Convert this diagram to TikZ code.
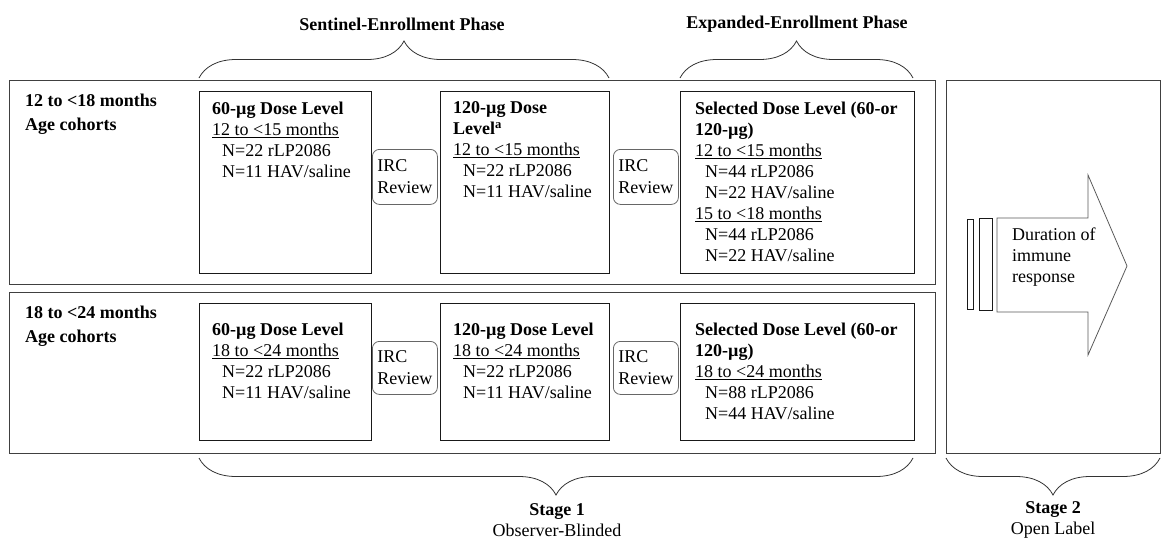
\documentclass[tikz,border=0pt]{standalone}
\usepackage{fontspec}
\setmainfont{Liberation Serif}
\usetikzlibrary{decorations.pathreplacing}

\begin{document}
\begin{tikzpicture}[
x=1pt,y=1pt,
rowbox/.style={
  draw=black!75,
  line width=1.3pt,
  anchor=north west,
  inner sep=0pt
  },
dosebox/.style={
  draw=black!90,
  line width=1.1pt,
  anchor=north west,
  inner sep=0pt
  },
ircbox/.style={
  draw=black!60,
  line width=0.8pt,
  rounded corners=7pt,
  anchor=north west,
  minimum width=65pt,
  inner sep=0pt,
  align=left,
  font=\fontsize{18}{22}\selectfont
  },
txt/.style={
  anchor=north west,
  inner sep=0pt,
  align=left,
  font=\fontsize{18}{21}\selectfont
  },
phasebrace/.style={
  decorate,
  decoration={brace,amplitude=37pt},
  draw=black!80,
  line width=0.8pt
  }
]
\useasboundingbox (0,0) rectangle (1172,-557);
% frames of the two cohorts and of stage 2
\node[rowbox,minimum width=926pt,minimum height=204pt] (row1) at (9,-80) {};
\node[rowbox,minimum width=926pt,minimum height=161pt] (row2) at (9,-292) {};
\node[rowbox,minimum width=214pt,minimum height=373pt] (stagetwo) at (946,-80) {};
% phase headers
\node[txt,anchor=center,font=\bfseries\fontsize{18}{21}\selectfont] (sentinel) at (402,-24) {Sentinel-Enrollment Phase};
\node[txt,anchor=center,font=\bfseries\fontsize{18}{21}\selectfont] (expanded) at (797,-24) {Expanded-Enrollment Phase};
\draw[phasebrace] (199,-78) -- (609,-78);
\draw[phasebrace] (680,-78) -- (913,-78);
% first cohort
\node[txt,font=\bfseries\fontsize{18}{24}\selectfont] (cohort1) at (25,-94) {12 to <18 months\\Age cohorts};
\node[dosebox,minimum width=172pt,minimum height=182pt] (dlow1) at (199,-91) {};
\node[dosebox,minimum width=169pt,minimum height=182pt] (dhigh1) at (440,-91) {};
\node[dosebox,minimum width=234pt,minimum height=182pt] (dsel1) at (680,-91) {};
\node[txt] (dlow1txt) at (212,-101.5) {\textbf{60-µg Dose Level}\\
  \underline{12 to <15 months}\\
  \hspace*{10pt}N=22 rLP2086\\
  \hspace*{10pt}N=11 HAV/saline};
\node[txt] (dhigh1txt) at (453,-101.5) {\textbf{120-µg Dose}\\
  \textbf{Level\textsuperscript{a}}\\
  \underline{12 to <15 months}\\
  \hspace*{10pt}N=22 rLP2086\\
  \hspace*{10pt}N=11 HAV/saline};
\node[txt] (dsel1txt) at (695,-101.5) {\textbf{Selected Dose Level (60-or}\\
  \textbf{120-µg)}\\
  \underline{12 to <15 months}\\
  \hspace*{10pt}N=44 rLP2086\\
  \hspace*{10pt}N=22 HAV/saline\\
  \underline{15 to <18 months}\\
  \hspace*{10pt}N=44 rLP2086\\
  \hspace*{10pt}N=22 HAV/saline};
\node[ircbox,minimum height=55pt] (irc1a) at (372,-149) {IRC\\Review};
\node[ircbox,minimum height=55pt] (irc1b) at (613,-149) {IRC\\Review};
% second cohort
\node[txt,font=\bfseries\fontsize{18}{24}\selectfont] (cohort2) at (25,-306) {18 to <24 months\\Age cohorts};
\node[dosebox,minimum width=172pt,minimum height=137pt] (dlow2) at (199,-303) {};
\node[dosebox,minimum width=169pt,minimum height=137pt] (dhigh2) at (440,-303) {};
\node[dosebox,minimum width=234pt,minimum height=137pt] (dsel2) at (680,-303) {};
\node[txt] (dlow2txt) at (212,-322.5) {\textbf{60-µg Dose Level}\\
  \underline{18 to <24 months}\\
  \hspace*{10pt}N=22 rLP2086\\
  \hspace*{10pt}N=11 HAV/saline};
\node[txt] (dhigh2txt) at (453,-322.5) {\textbf{120-µg Dose Level}\\
  \underline{18 to <24 months}\\
  \hspace*{10pt}N=22 rLP2086\\
  \hspace*{10pt}N=11 HAV/saline};
\node[txt] (dsel2txt) at (695,-322.5) {\textbf{Selected Dose Level (60-or}\\
  \textbf{120-µg)}\\
  \underline{18 to <24 months}\\
  \hspace*{10pt}N=88 rLP2086\\
  \hspace*{10pt}N=44 HAV/saline};
\node[ircbox,minimum height=53pt] (irc2a) at (372,-341) {IRC\\Review};
\node[ircbox,minimum height=53pt] (irc2b) at (613,-341) {IRC\\Review};
% stage 2 arrow
\draw[black!90,line width=0.8pt] (967,-219) rectangle (973,-309);
\draw[black!90,line width=0.8pt] (979,-218) rectangle (992,-310);
\draw[black!65,line width=0.8pt] (997,-218) -- (1088,-218) -- (1088,-175) -- (1127,-266)
  -- (1088,-355) -- (1088,-312) -- (997,-312) -- cycle;
\node[txt] (duration) at (1012,-227.5) {Duration of\\immune\\response};
% stages
\draw[phasebrace] (913,-458) -- (199,-458);
\draw[phasebrace] (1160,-458) -- (946,-458);
\node[txt,anchor=center,align=center] (stageone) at (557,-520) {\textbf{Stage 1}\\Observer-Blinded};
\node[txt,anchor=center,align=center] (stagetwolbl) at (1053,-520) {\textbf{Stage 2}\\Open Label};
\end{tikzpicture}
\end{document}
